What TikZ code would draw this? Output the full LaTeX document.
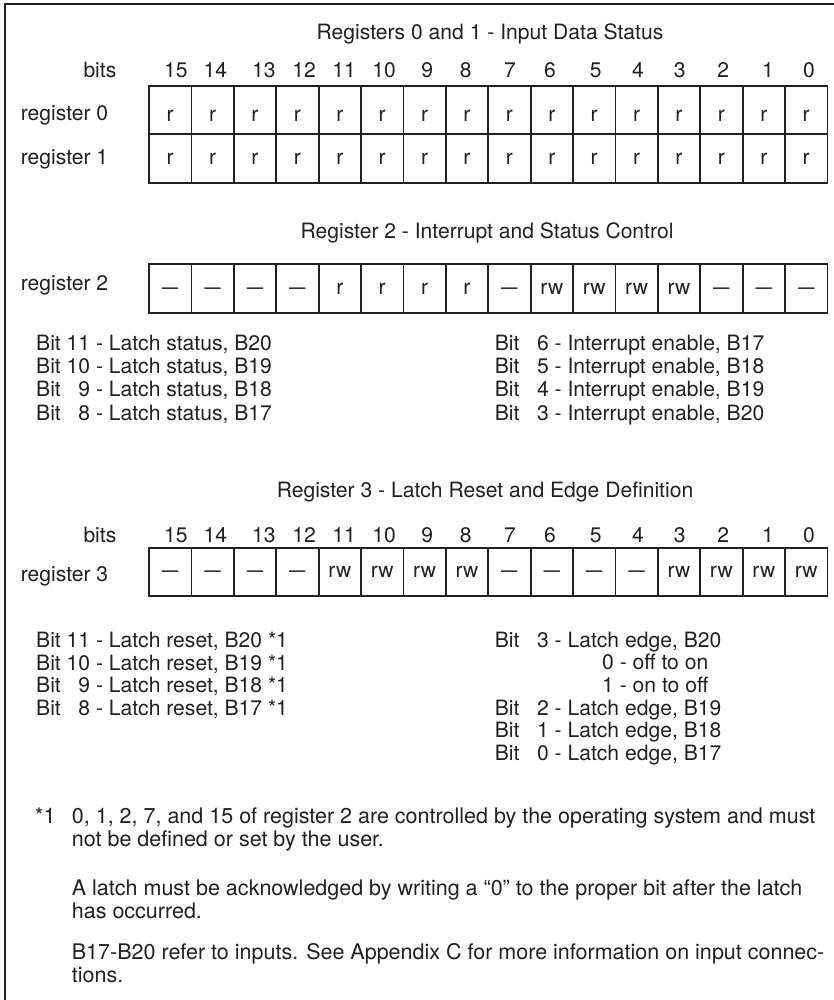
\documentclass[tikz,border=0pt]{standalone}
\usepackage{fontspec}
\setmainfont{TeX Gyre Heros}
\definecolor{ink}{HTML}{231F20}
\newcommand\regfs{\fontsize{21.1}{23}\selectfont}
\newcommand\notefs{\fontsize{21.5}{23}\selectfont}
\newcommand\rdash{\scalebox{1.4}[1]{–}}
\newcommand\dd{\hphantom{0}}
\begin{document}
\begin{tikzpicture}[x=1pt,y=-1pt,
  txt/.style={inner sep=0pt, anchor=base west, font=\regfs, text=ink},
  ntxt/.style={txt, font=\notefs},
  ctxt/.style={inner sep=0pt, anchor=base, font=\regfs, text=ink},
  cell/.style={draw=ink, line width=1.8pt, minimum width=42.4pt, minimum height=48.5pt,
    inner sep=0pt, font=\regfs, text=ink, text height=11pt, text depth=0pt},
]
\useasboundingbox (0,0) rectangle (834,1000);
% frame
\draw[ink, line width=2pt] (834,4.2) -- (5,4.2) -- (5,1000);

% titles
\node[ctxt] (t01) at (490,39.5) {Registers 0 and 1 - Input Data Status};
\node[ctxt] (t2) at (487,239) {Register 2 - Interrupt and Status Control};
\node[ctxt] (t3) at (485,497.6) {Register 3 - Latch Reset and Edge Definition};

% bit numbers
\node[txt] (bitsA) at (83.3,77.8) {bits};
\node[txt] (bitsB) at (83.3,542.5) {bits};
\foreach \b/\x in {15/175.8,14/215.3,13/263.8,12/304,11/344,10/384,9/427.3,8/465.7,7/510,6/550,5/595.7,4/638,3/679.7,2/723.3,1/768,0/809}{
  \node[ctxt] (na\b) at (\x,77.8) {\b};
  \node[ctxt] (nb\b) at (\x,542.5) {\b};
}

% register labels
\node[txt] (lr0) at (20.7,120.5) {register 0};
\node[txt] (lr1) at (20.7,164.5) {register 1};
\node[txt] (lr2) at (20.7,290.5) {register 2};
\node[txt] (lr3) at (20.7,581.5) {register 3};

% registers 0 and 1
\foreach \i in {0,...,15}{
  \node[cell, minimum height=48.6pt, text height=23pt] (ra\i) at ({170.2+42.4*\i},110) {r};
  \node[cell, minimum height=49pt] (rb\i) at ({170.2+42.4*\i},158.8) {r};
}
% register 2
\foreach \c [count=\i from 0] in {\rdash,\rdash,\rdash,\rdash,r,r,r,r,\rdash,rw,rw,rw,rw,\rdash,\rdash,\rdash}{
  \node[cell, minimum height=48.4pt] (rc\i) at ({170.2+42.4*\i},288.5) {\c};
}
% register 3
\foreach \c [count=\i from 0] in {\rdash,\rdash,\rdash,\rdash,rw,rw,rw,rw,\rdash,\rdash,\rdash,\rdash,rw,rw,rw,rw}{
  \node[cell, minimum height=48.3pt] (rd\i) at ({170.2+42.4*\i},571.9) {\c};
}

% register 2 descriptions
\node[txt] (s11) at (36,350) {Bit 11 - Latch status, B20};
\node[txt] (s10) at (36,373.3) {Bit 10 - Latch status, B19};
\node[txt] (s9) at (36,396.7) {Bit \dd9 - Latch status, B18};
\node[txt] (s8) at (36,420) {Bit \dd8 - Latch status, B17};
\node[txt] (i6) at (494.7,350) {Bit \dd6 - Interrupt enable, B17};
\node[txt] (i5) at (494.7,373.3) {Bit \dd5 - Interrupt enable, B18};
\node[txt] (i4) at (494.7,396.7) {Bit \dd4 - Interrupt enable, B19};
\node[txt] (i3) at (494.7,420) {Bit \dd3 - Interrupt enable, B20};

% register 3 descriptions
\node[txt] (r11) at (36,647.3) {Bit 11 - Latch reset, B20 *1};
\node[txt] (r10) at (36,670) {Bit 10 - Latch reset, B19 *1};
\node[txt] (r9) at (36,692.7) {Bit \dd9 - Latch reset, B18 *1};
\node[txt] (r8) at (36,715.3) {Bit \dd8 - Latch reset, B17 *1};
\node[txt] (e3) at (494.7,647.3) {Bit \dd3 - Latch edge, B20};
\node[txt] (e3a) at (602,669.9) {0 - off to on};
\node[txt] (e3b) at (602,692.5) {1 - on to off};
\node[txt] (e2) at (494.7,715) {Bit \dd2 - Latch edge, B19};
\node[txt] (e1) at (494.7,737.6) {Bit \dd1 - Latch edge, B18};
\node[txt] (e0) at (494.7,760.2) {Bit \dd0 - Latch edge, B17};

% footnotes
\node[ntxt] (fstar) at (35,823) {*1};
\node[ntxt] (f1a) at (71.7,823) {0, 1, 2, 7, and 15 of register 2 are controlled by the operating system and must};
\node[ntxt] (f1b) at (71.7,846) {not be defined or set by the user.};
\node[ntxt] (f2a) at (71.7,895.7) {A latch must be acknowledged by writing a “0” to the proper bit after the latch};
\node[ntxt] (f2b) at (71.7,918.5) {has occurred.};
\node[ntxt] (f3a) at (71.7,959) {B17-B20 refer to inputs. See Appendix C for more information on input connec-};
\node[ntxt] (f3b) at (71.7,982) {tions.};
\end{tikzpicture}
\end{document}
